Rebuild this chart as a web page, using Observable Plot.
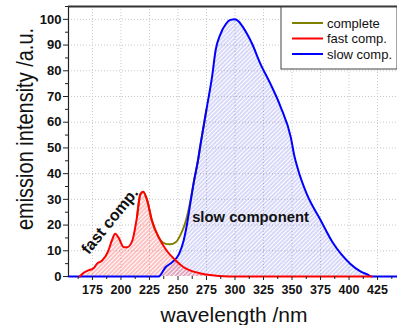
<!DOCTYPE html>
<html>
<head>
<meta charset="utf-8">
<script src="https://cdn.jsdelivr.net/npm/d3@7"></script>
<script src="https://cdn.jsdelivr.net/npm/@observablehq/plot@0.6"></script>
<style>
  html, body { margin: 0; padding: 0; background: #fff; }
  #chart { width: 397px; height: 325px; position: relative; }
</style>
</head>
<body>
<div id="chart"></div>
<script>
// ---- data (wavelength nm, intensity a.u.) ----
const fastComp = [
  [164,0],[166,1],[171,2.3],[176,3.2],[179,5],[183.5,6.2],[189,10.1],[192,14],[195,16.6],[198,15],
  [202.5,11.4],[205.5,11.4],[210,14],[214,23],[217,32],[219.5,33],[223,29.6],[227,22],[233,15.3],
  [240,10.1],[248,6.2],[255,3.6],[261,2.3],[270,1.2],[280,0.5],[290,0.1],[300,0],[420,0]
];
const slowComp = [
  [154,0],[233,0],[239,3.6],[245,5.6],[251,8.8],[255,14],[258,20.5],[261,29],[264,37],[267.5,45],
  [270,52],[275,65],[280,78],[283,88],[287,94],[292,98.2],[296,99.8],[300,100],[303,99.3],[307,97],
  [311,94],[315,90.5],[322,83],[331,75],[340,66],[349,54],[352,47],[355,42],[363,32],[375,22],
  [386,13],[401,5],[410,2],[416,0.8],[420,0],[442.5,0]
];
const complete = [
  [214,23],[217,32],[219.5,33],[223,29.6],[227,22],[233,15.4],[237.5,13],[243,12.5],[248,13.3],
  [252,16],[256.5,21],[261,29.5],[264,37],[267.5,45],[270,52],[275,65]
];
const xMajor = [175,200,225,250,275,300,325,350,375,400,425];
const xMinor = [162.5,187.5,212.5,237.5,262.5,287.5,312.5,337.5,362.5,387.5,412.5,437.5];
const yMajor = [0,10,20,30,40,50,60,70,80,90,100];
const yMinor = [5,15,25,35,45,55,65,75,85,95,105];
const legendLabels = ["complete","fast comp.","slow comp."];
const seriesColors = ["#808000","#ff0000","#0000ff"];
const xTitle = "wavelength /nm";
const yTitle = "emission intensity /a.u.";
const fastLabel = [{w:190.3, v:21.6, text:"fast comp."}];
const slowLabel = [{w:313.6, v:23, text:"slow component"}];

const toObj = arr => arr.map(([w,v]) => ({w, v}));
const fast = toObj(fastComp), slow = toObj(slowComp), comp = toObj(complete);
const curve = "monotone-x";

const plot = Plot.plot({
  width: 397,
  height: 325,
  marginLeft: 68,
  marginRight: 0,
  marginTop: 6,
  marginBottom: 49,
  style: {fontFamily: "Arial, 'Liberation Sans', sans-serif", fontSize: "12.5px", background: "white", overflow: "visible"},
  x: {domain: [154, 442.5], label: null},
  y: {domain: [0, 105], label: null},
  marks: [
    Plot.gridX(xMajor, {stroke: "#c8c8c8", strokeOpacity: 1, strokeDasharray: "1,2"}),
    Plot.gridY(yMajor.filter(d => d > 0), {stroke: "#c8c8c8", strokeOpacity: 1, strokeDasharray: "1,2"}),
    Plot.areaY(slow, {x: "w", y: "v", fill: "url(#hatchBlue)", curve}),
    Plot.areaY(fast, {x: "w", y: "v", fill: "url(#hatchRed)", curve}),
    Plot.lineY(comp, {x: "w", y: "v", stroke: seriesColors[0], strokeWidth: 2, curve}),
    Plot.lineY(slow, {x: "w", y: "v", stroke: seriesColors[2], strokeWidth: 2, curve}),
    Plot.lineY(fast, {x: "w", y: "v", stroke: seriesColors[1], strokeWidth: 2, curve}),
    Plot.axisY(yMajor, {tickSize: 5, tickPadding: 2, fontSize: 13, fontWeight: "bold", label: null, stroke: "#222", fill: "#111"}),
    Plot.axisY(yMinor, {tickSize: 3, text: null, label: null, stroke: "#222"}),
    Plot.axisX(xMajor, {tickSize: 4, tickPadding: 5, fontSize: 12.5, fontWeight: "bold", label: null, stroke: "#222", fill: "#111"}),
    Plot.axisX(xMinor, {tickSize: 3, text: null, label: null, stroke: "#222"}),
    Plot.ruleX([154], {stroke: "#222", strokeWidth: 1.2}),
    Plot.ruleY([105], {stroke: "#333", strokeWidth: 2}),
    Plot.text(fastLabel, {x: "w", y: "v", text: "text", rotate: -51, fontSize: 16, fontWeight: "bold", fill: "#111"}),
    Plot.text(slowLabel, {x: "w", y: "v", text: "text", fontSize: 14.8, fontWeight: "bold", fill: "#111"})
  ]
});

const svg = d3.select(plot);
const defs = svg.insert("defs", ":first-child");
function hatch(id, color, op) {
  const p = defs.append("pattern").attr("id", id).attr("patternUnits", "userSpaceOnUse")
    .attr("width", 3).attr("height", 3).attr("patternTransform", "rotate(45)");
  p.append("line").attr("x1", 1).attr("y1", 0).attr("x2", 1).attr("y2", 3)
    .attr("stroke", color).attr("stroke-width", 1).attr("stroke-opacity", op);
}
hatch("hatchBlue", "#3a3ae0", 0.4);
hatch("hatchRed", "#ff2020", 0.55);

// axis titles
svg.append("text").attr("transform", "translate(33,129) rotate(-90) scale(1,1.2)")
  .attr("text-anchor", "middle").attr("font-size", 20).attr("font-weight", "normal")
  .attr("fill", "#111").text(yTitle);
svg.append("text").attr("transform", "translate(234,322) scale(1,0.92)")
  .attr("text-anchor", "middle").attr("font-size", 21).attr("font-weight", "normal")
  .attr("fill", "#111").text(xTitle);

// legend
const lg = svg.append("g").attr("text-anchor", "start");
lg.append("rect").attr("x", 281).attr("y", 7).attr("width", 116).attr("height", 62)
  .attr("fill", "white").attr("stroke", "#444").attr("stroke-width", 1);
legendLabels.forEach((t, i) => {
  const y = 23 + i * 15.5;
  lg.append("line").attr("x1", 292).attr("x2", 323).attr("y1", y).attr("y2", y)
    .attr("stroke", seriesColors[i]).attr("stroke-width", 2);
  lg.append("text").attr("x", 327).attr("y", y).attr("dy", "0.35em").attr("text-anchor", "start")
    .attr("font-size", 13).attr("font-weight", "normal").attr("fill", "#111").text(t);
});

document.getElementById("chart").appendChild(plot);
</script>
</body>
</html>
